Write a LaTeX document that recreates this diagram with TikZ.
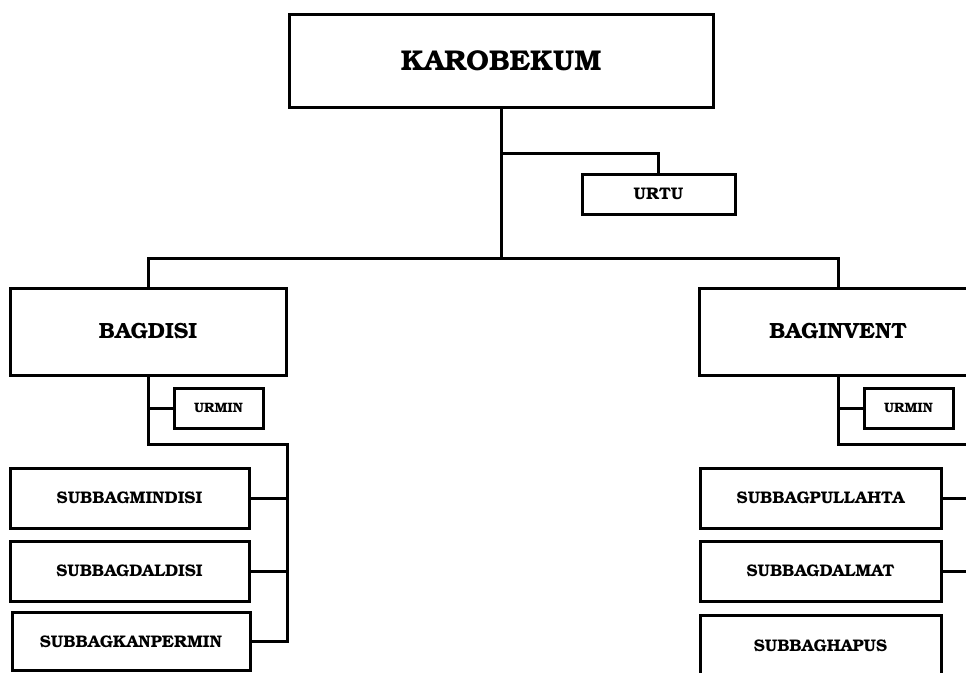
\documentclass[tikz,border=0pt]{standalone}
\usepackage{fontspec}
\setmainfont{TeX Gyre Bonum}
\usetikzlibrary{calc}
\begin{document}
\begin{tikzpicture}[x=1pt,y=-1pt,
  unit/.style={draw=black,line width=3pt,fill=white,inner sep=0pt,font=\bfseries},
  link/.style={draw=black,line width=3pt,line join=miter,line cap=rect},
  headtxt/.style={font=\bfseries\fontsize{28.6}{32}\selectfont},
  divtxt/.style={font=\bfseries\fontsize{22}{26}\selectfont},
  subtxt/.style={font=\bfseries\fontsize{16.8}{20}\selectfont},
  urtxt/.style={font=\bfseries\fontsize{16.8}{20}\selectfont},
  mintxt/.style={font=\bfseries\fontsize{13.6}{16}\selectfont}]
\useasboundingbox (0,0) rectangle (966,672);
\clip (0,0) rectangle (966,672);

% head office and its staff unit
\node[unit,headtxt,minimum width=424pt,minimum height=93pt] (karo) at (501,60.5) {KAROBEKUM};
\node[unit,urtxt,minimum width=153pt,minimum height=40pt] (urtu) at (658.5,194) {URTU};

% the two divisions
\node[unit,divtxt,minimum width=276pt,minimum height=87pt] (bagdisi) at (148,331.5) {BAGDISI};
\node[unit,divtxt,minimum width=278pt,minimum height=87pt] (baginv) at (838,331.5) {BAGINVENT};

% administration units
\node[unit,mintxt,minimum width=89pt,minimum height=40pt] (urminL) at (218.5,408) {URMIN};
\node[unit,mintxt,minimum width=89pt,minimum height=40pt] (urminR) at (908.5,408) {URMIN};

% sub-sections, left
\node[unit,subtxt,minimum width=239pt,minimum height=60pt] (mindisi) at (129.5,498) {SUBBAGMINDISI};
\node[unit,subtxt,minimum width=239pt,minimum height=60pt] (daldisi) at (129.5,571) {SUBBAGDALDISI};
\node[unit,subtxt,minimum width=238pt,minimum height=58pt] (kanpermin) at (131,641.5) {SUBBAGKANPERMIN};

% sub-sections, right
\node[unit,subtxt,minimum width=241pt,minimum height=60pt] (pullahta) at (820.5,498) {SUBBAGPULLAHTA};
\node[unit,subtxt,minimum width=241pt,minimum height=60pt] (dalmat) at (820.5,571) {SUBBAGDALMAT};
\node[unit,subtxt,minimum width=241pt,minimum height=62pt] (hapus) at (820.5,646) {SUBBAGHAPUS};

% rails
\coordinate (bus) at (501,258);
\coordinate (railL) at (287,444);
\coordinate (railR) at (977,444);

% connectors
\draw[link] (karo.south) -- (bus);
\draw[link] (karo.south |- 0,153) -| (urtu.north);
\draw[link] (bagdisi.north) |- (bus) -| (baginv.north);
\draw[link] (bagdisi.south) |- (railL) |- (kanpermin.east);
\draw[link] (mindisi.east) -- (mindisi.east -| railL);
\draw[link] (daldisi.east) -- (daldisi.east -| railL);
\draw[link] (urminL.west) -- (urminL.west -| bagdisi.south);
\draw[link] (baginv.south) |- (railR) -- (railR |- 0,690);
\draw[link] (urminR.west) -- (urminR.west -| baginv.south);
\draw[link] (pullahta.east) -- (pullahta.east -| railR);
\draw[link] (dalmat.east) -- (dalmat.east -| railR);
\draw[link] ($(hapus.east)+(0,9)$) -- ($(hapus.east)+(0,9)$ -| railR);
\end{tikzpicture}
\end{document}
